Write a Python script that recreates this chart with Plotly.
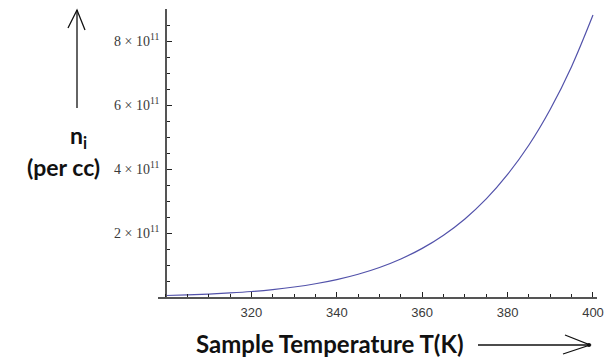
import plotly.graph_objects as go

# ---- data ----
temperature_K = [300, 305, 310, 315, 320, 325, 330, 335, 340, 345, 350,
                 355, 360, 365, 370, 375, 380, 385, 390, 395, 400]
ni_per_cc = [0.047e11, 0.066e11, 0.092e11, 0.127e11, 0.172e11, 0.233e11,
             0.312e11, 0.414e11, 0.545e11, 0.712e11, 0.923e11, 1.189e11,
             1.52e11, 1.932e11, 2.44e11, 3.064e11, 3.83e11, 4.749e11,
             5.866e11, 7.206e11, 8.81e11]
x_tick_vals = [320, 340, 360, 380, 400]
x_tick_text = ["320", "340", "360", "380", "400"]
y_tick_vals = [2e11, 4e11, 6e11, 8e11]
y_tick_text = ["2 \u00d7 10<sup style='font-size:12px'>11</sup>",
               "4 \u00d7 10<sup style='font-size:12px'>11</sup>",
               "6 \u00d7 10<sup style='font-size:12px'>11</sup>",
               "8 \u00d7 10<sup style='font-size:12px'>11</sup>"]

# ---- layout geometry ----
W, H = 604, 358
L, R, T, B = 158, 7, 9, 61
PW, PH = W - L - R, H - T - B


def px(x):
    return (x - L) / PW


def py(y):
    return (H - B - y) / PH


fig = go.Figure()
fig.add_trace(go.Scatter(
    x=temperature_K, y=ni_per_cc, mode="lines",
    line=dict(color="#5252aa", width=1.2, shape="spline"),
    hoverinfo="skip", showlegend=False,
))

axis_col = "#555555"
tick_col = "#222222"

fig.update_layout(
    width=W, height=H, autosize=False,
    margin=dict(l=L, r=R, t=T, b=B, pad=0, autoexpand=False),
    paper_bgcolor="white", plot_bgcolor="white",
    showlegend=False,
    xaxis=dict(
        range=[298.13, 400.94], showgrid=False, zeroline=False, automargin=False,
        showline=True, linecolor=axis_col, linewidth=1.5,
        tickmode="array", tickvals=x_tick_vals, ticktext=x_tick_text,
        ticks="inside", ticklen=5, tickwidth=1, tickcolor=tick_col,
        tickfont=dict(family="Liberation Sans", size=13, color="#3a3a3a"),
        ticklabelstandoff=3,
        minor=dict(tickmode="linear", tick0=300, dtick=5, ticks="inside",
                   ticklen=3, tickwidth=1, tickcolor=tick_col, showgrid=False),
    ),
    yaxis=dict(
        range=[0, 9e11], showgrid=False, zeroline=False, automargin=False,
        anchor="free", position=px(166),
        showline=True, linecolor=axis_col, linewidth=1.5,
        tickmode="array", tickvals=y_tick_vals, ticktext=y_tick_text,
        ticks="inside", ticklen=5, tickwidth=1, tickcolor=tick_col,
        tickfont=dict(family="Liberation Serif", size=14, color="#3a3a3a"),
        ticklabelstandoff=3,
        minor=dict(tickmode="linear", tick0=0, dtick=0.5e11, ticks="inside",
                   ticklen=3, tickwidth=1, tickcolor=tick_col, showgrid=False),
    ),
)

line_style = dict(color="#111111", width=1.3)
shapes = [
    # vertical up arrow
    dict(type="line", xref="paper", yref="paper",
         x0=px(77), y0=py(108), x1=px(77), y1=py(10), line=line_style),
    dict(type="path", xref="paper", yref="paper",
         path=f"M {px(68)} {py(28)} L {px(77)} {py(10)} L {px(85)} {py(30)}",
         line=line_style),
    # horizontal right arrow
    dict(type="line", xref="paper", yref="paper",
         x0=px(478), y0=py(345), x1=px(590), y1=py(345), line=line_style),
    dict(type="path", xref="paper", yref="paper",
         path=f"M {px(565)} {py(335)} L {px(590)} {py(345)} L {px(563)} {py(354)}",
         line=line_style),
    dict(type="circle", xref="paper", yref="paper",
         x0=px(587), y0=py(347), x1=px(591), y1=py(343),
         fillcolor="#111111", line=dict(width=0)),
]
fig.update_layout(shapes=shapes)

lab_font = dict(family="Lato", size=23, color="#111111")
fig.add_annotation(text="<b>n<sub>i</sub></b>", xref="paper", yref="paper",
                   x=px(78), y=py(136), xanchor="center", yanchor="middle",
                   showarrow=False, font=lab_font)
fig.add_annotation(text="<b>(per cc)</b>", xref="paper", yref="paper",
                   x=px(63), y=py(167), xanchor="center", yanchor="middle",
                   showarrow=False, font=lab_font)
fig.add_annotation(text="<b>Sample Temperature T(K)</b>", xref="paper", yref="paper",
                   x=px(194), y=py(343), xanchor="left", yanchor="middle",
                   showarrow=False, font=dict(family="Lato", size=24, color="#111111"))

fig.write_html("out.html", config={"displayModeBar": False},
               post_script="document.body.style.margin='0';document.body.style.overflow='hidden';")
